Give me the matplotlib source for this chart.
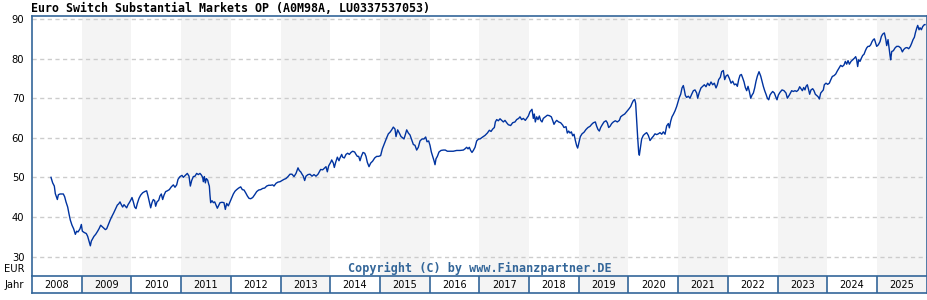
import matplotlib
matplotlib.use("Agg")
import matplotlib.pyplot as plt
import numpy as np

# fund price (EUR); time as decimal years
years = [
    2008.382, 2008.416, 2008.449, 2008.469, 2008.496, 2008.510, 2008.530, 2008.563, 2008.630, 2008.657,
    2008.684, 2008.718, 2008.744, 2008.771, 2008.805, 2008.838, 2008.872, 2008.899, 2008.926, 2008.966,
    2008.993, 2009.013, 2009.046, 2009.093, 2009.120, 2009.147, 2009.174, 2009.194, 2009.221, 2009.247,
    2009.281, 2009.321, 2009.348, 2009.382, 2009.408, 2009.442, 2009.476, 2009.502, 2009.543, 2009.576,
    2009.610, 2009.643, 2009.677, 2009.717, 2009.744, 2009.771, 2009.797, 2009.824, 2009.851, 2009.878,
    2009.905, 2009.932, 2009.958, 2009.985, 2010.012, 2010.039, 2010.066, 2010.093, 2010.119, 2010.153,
    2010.186, 2010.227, 2010.267, 2010.307, 2010.334, 2010.361, 2010.388, 2010.414, 2010.441, 2010.468,
    2010.488, 2010.515, 2010.549, 2010.575, 2010.602, 2010.629, 2010.656, 2010.689, 2010.723, 2010.763,
    2010.803, 2010.844, 2010.877, 2010.911, 2010.938, 2010.978, 2011.018, 2011.045, 2011.085,
    2011.125, 2011.159, 2011.186, 2011.213, 2011.246, 2011.280, 2011.313, 2011.347, 2011.380, 2011.407,
    2011.434, 2011.447, 2011.468, 2011.488, 2011.508, 2011.535, 2011.555, 2011.568, 2011.581, 2011.595,
    2011.622, 2011.649, 2011.676, 2011.702, 2011.729, 2011.756, 2011.783, 2011.823, 2011.863, 2011.890,
    2011.917, 2011.950, 2011.984, 2012.017, 2012.051, 2012.085, 2012.118, 2012.158, 2012.199, 2012.232,
    2012.266, 2012.299, 2012.333, 2012.366, 2012.400, 2012.440, 2012.480, 2012.521, 2012.561, 2012.601,
    2012.641, 2012.682, 2012.722, 2012.762, 2012.802, 2012.842, 2012.869, 2012.910, 2012.950, 2012.990,
    2013.030, 2013.071, 2013.111, 2013.151, 2013.191, 2013.231, 2013.272, 2013.312, 2013.352, 2013.379,
    2013.406, 2013.433, 2013.459, 2013.486, 2013.513, 2013.553, 2013.594, 2013.634, 2013.674, 2013.714,
    2013.755, 2013.781, 2013.808, 2013.848, 2013.889, 2013.915, 2013.942, 2013.969,
    2014.010, 2014.030, 2014.063, 2014.083, 2014.110, 2014.144, 2014.177, 2014.197, 2014.231, 2014.251,
    2014.284, 2014.318, 2014.351, 2014.385, 2014.418, 2014.452, 2014.492, 2014.519, 2014.546, 2014.573,
    2014.600, 2014.626, 2014.660, 2014.694, 2014.720, 2014.747, 2014.781, 2014.814, 2014.854, 2014.895,
    2014.935, 2014.975, 2015.015, 2015.049, 2015.083, 2015.109, 2015.136, 2015.170, 2015.203, 2015.237,
    2015.270, 2015.304, 2015.324, 2015.357, 2015.391, 2015.425, 2015.458, 2015.485, 2015.512, 2015.539,
    2015.572, 2015.606, 2015.639, 2015.673, 2015.706, 2015.740, 2015.773, 2015.807, 2015.847, 2015.887,
    2015.921, 2015.948, 2015.981, 2016.008, 2016.035, 2016.062, 2016.089, 2016.109, 2016.129, 2016.156,
    2016.189, 2016.229, 2016.276, 2016.316, 2016.357, 2016.410, 2016.477, 2016.545, 2016.612, 2016.679,
    2016.712, 2016.746, 2016.773, 2016.799, 2016.826, 2016.853, 2016.880, 2016.914, 2016.947, 2016.987,
    2017.014, 2017.068, 2017.115, 2017.162, 2017.202, 2017.236, 2017.269, 2017.303, 2017.323, 2017.350,
    2017.383, 2017.417, 2017.450, 2017.484, 2017.517, 2017.551, 2017.584, 2017.631, 2017.671, 2017.718,
    2017.752, 2017.792, 2017.819, 2017.852, 2017.886, 2017.926, 2017.953, 2017.987, 2018.020, 2018.060,
    2018.087, 2018.107, 2018.127, 2018.154, 2018.181, 2018.208, 2018.235, 2018.262, 2018.288, 2018.329,
    2018.369, 2018.409, 2018.449, 2018.476, 2018.503, 2018.530, 2018.557, 2018.597, 2018.637, 2018.678,
    2018.704, 2018.745, 2018.771, 2018.798, 2018.825, 2018.852, 2018.879, 2018.906, 2018.933, 2018.959,
    2018.979, 2019.006, 2019.033, 2019.067, 2019.107, 2019.147, 2019.187, 2019.228, 2019.261, 2019.295,
    2019.335, 2019.362, 2019.388, 2019.415, 2019.442, 2019.469, 2019.509, 2019.549, 2019.576, 2019.603,
    2019.630, 2019.664, 2019.697, 2019.737, 2019.777, 2019.818, 2019.845, 2019.885, 2019.925, 2019.965,
    2020.005, 2020.046, 2020.072, 2020.099, 2020.126, 2020.146, 2020.166, 2020.186, 2020.207, 2020.220,
    2020.240, 2020.267, 2020.300, 2020.334, 2020.367, 2020.401, 2020.435, 2020.468, 2020.502, 2020.535,
    2020.569, 2020.602, 2020.636, 2020.670, 2020.703, 2020.737, 2020.770, 2020.804, 2020.824, 2020.851,
    2020.877, 2020.904, 2020.938, 2020.971, 2020.998, 2021.025, 2021.052, 2021.079, 2021.105, 2021.125,
    2021.146, 2021.172, 2021.206, 2021.239, 2021.273, 2021.307, 2021.340, 2021.374, 2021.394, 2021.427,
    2021.461, 2021.494, 2021.528, 2021.561, 2021.595, 2021.629, 2021.662, 2021.696, 2021.729, 2021.763,
    2021.790, 2021.816, 2021.850, 2021.877, 2021.910, 2021.937, 2021.964, 2021.998, 2022.031, 2022.065,
    2022.098, 2022.132, 2022.165, 2022.192, 2022.219, 2022.246, 2022.273, 2022.300, 2022.327, 2022.353,
    2022.380, 2022.407, 2022.434, 2022.461, 2022.488, 2022.514, 2022.541, 2022.568, 2022.595, 2022.628,
    2022.662, 2022.689, 2022.715, 2022.742, 2022.769, 2022.796, 2022.823, 2022.849, 2022.876, 2022.903,
    2022.937, 2022.963, 2022.990, 2023.017, 2023.051, 2023.091, 2023.131, 2023.171, 2023.198, 2023.238,
    2023.285, 2023.318, 2023.352, 2023.385, 2023.419, 2023.446, 2023.473, 2023.500, 2023.527, 2023.553,
    2023.574, 2023.600, 2023.627, 2023.647, 2023.674, 2023.708, 2023.734, 2023.761, 2023.788, 2023.815,
    2023.842, 2023.869, 2023.895, 2023.922, 2023.942, 2023.976, 2024.009, 2024.043, 2024.070, 2024.103,
    2024.137, 2024.171, 2024.204, 2024.238, 2024.271, 2024.305, 2024.338, 2024.365, 2024.392, 2024.419,
    2024.446, 2024.479, 2024.513, 2024.546, 2024.573, 2024.593, 2024.613, 2024.633, 2024.660, 2024.687,
    2024.714, 2024.741, 2024.768, 2024.794, 2024.821, 2024.848, 2024.875, 2024.902, 2024.928, 2024.949,
    2024.969, 2024.996, 2025.029, 2025.063, 2025.090, 2025.117, 2025.150, 2025.177, 2025.197, 2025.224,
    2025.244, 2025.264, 2025.277, 2025.298, 2025.331, 2025.365, 2025.398, 2025.438, 2025.479, 2025.512,
    2025.539, 2025.573, 2025.606, 2025.640, 2025.673, 2025.700, 2025.727, 2025.754, 2025.774, 2025.801,
    2025.821, 2025.848, 2025.868, 2025.895, 2025.921, 2025.955, 2025.968,
]
prices = [
    50.0, 48.6, 47.8, 45.9, 44.9, 44.4, 45.6, 45.8, 45.8, 45.1,
    43.8, 42.5, 40.8, 39.2, 37.9, 37.0, 35.6, 36.4, 36.2, 37.0,
    38.1, 36.4, 36.1, 35.8, 35.1, 33.9, 32.7, 33.9, 34.5, 35.1,
    35.6, 36.4, 37.0, 37.9, 37.6, 37.2, 36.8, 37.0, 38.3, 39.3,
    40.2, 41.0, 41.9, 43.0, 43.3, 43.8, 43.1, 42.5, 43.1, 42.7,
    42.3, 43.1, 43.6, 44.2, 44.9, 43.8, 42.5, 42.1, 43.4, 44.7,
    45.5, 46.1, 46.4, 46.6, 45.3, 43.8, 42.3, 43.6, 44.4, 44.1,
    42.7, 43.8, 44.2, 45.3, 45.8, 44.4, 45.5, 46.4, 46.6, 46.9,
    47.6, 48.1, 47.5, 48.1, 49.5, 50.2, 50.5, 50.0, 50.5,
    51.0, 50.3, 47.8, 49.2, 50.2, 50.3, 51.0, 50.7, 51.0, 50.6,
    50.0, 48.9, 50.2, 48.6, 49.7, 49.3, 48.3, 47.8, 45.5, 43.6,
    44.1, 43.6, 43.8, 43.0, 42.2, 42.9, 43.6, 43.7, 43.6, 41.9,
    43.4, 42.8, 43.8, 44.7, 45.8, 46.5, 46.9, 47.3, 47.6, 46.9,
    46.8, 46.1, 45.3, 44.7, 44.6, 44.9, 45.6, 46.4, 46.8, 46.9,
    47.2, 47.3, 47.8, 48.0, 48.0, 48.1, 47.8, 48.5, 48.8, 48.9,
    49.2, 49.5, 49.7, 50.2, 50.8, 50.8, 50.2, 51.0, 52.4, 51.7,
    51.4, 50.8, 50.3, 49.2, 50.3, 50.7, 50.8, 50.3, 50.7, 50.3,
    50.8, 51.4, 52.0, 51.9, 52.4, 52.7, 51.4, 52.9,
    53.8, 54.4, 53.6, 52.5, 53.8, 55.1, 54.2, 54.9, 55.8, 55.1,
    54.9, 55.8, 56.1, 55.8, 56.3, 56.6, 56.4, 55.8, 55.3, 55.3,
    54.2, 55.3, 56.3, 56.1, 55.3, 53.8, 52.7, 53.6, 54.1, 54.9,
    55.3, 55.3, 55.5, 57.2, 58.3, 59.2, 60.0, 61.0, 61.4, 62.0,
    62.7, 62.2, 60.3, 62.0, 61.2, 60.3, 60.0, 59.7, 60.8, 62.0,
    61.2, 60.7, 59.5, 58.3, 58.1, 56.9, 57.6, 59.2, 59.7, 59.7,
    60.2, 59.0, 59.2, 58.1, 56.4, 55.3, 54.2, 53.2, 54.7, 55.3,
    56.4, 56.8, 56.9, 56.9, 56.6, 56.6, 56.6, 56.8, 56.8, 56.9,
    57.2, 57.6, 57.2, 57.6, 56.8, 56.3, 56.8, 57.6, 59.2, 59.7,
    59.7, 60.2, 60.6, 61.2, 61.9, 61.6, 62.2, 62.6, 64.0, 64.6,
    64.3, 64.8, 64.4, 64.0, 64.4, 63.8, 63.3, 63.1, 63.8, 64.0,
    64.6, 64.9, 65.3, 64.6, 64.9, 64.4, 64.9, 65.5, 66.6, 67.2,
    64.9, 66.0, 64.0, 65.3, 64.6, 65.5, 64.4, 64.0, 64.9, 65.3,
    65.7, 65.6, 65.3, 64.4, 63.4, 64.0, 64.4, 64.0, 63.8, 63.2,
    62.6, 62.8, 61.2, 61.7, 61.2, 61.5, 60.5, 60.9, 59.3, 58.0,
    57.4, 58.9, 60.3, 61.0, 61.4, 62.1, 62.6, 62.9, 63.4, 63.8,
    64.0, 62.9, 62.1, 61.7, 62.6, 63.2, 64.0, 64.3, 63.8, 62.6,
    62.9, 63.6, 64.0, 64.3, 64.0, 64.4, 65.3, 65.7, 66.0, 66.6,
    67.2, 67.9, 68.7, 69.4, 69.7, 68.7, 64.4, 60.2, 56.3, 55.6,
    57.4, 59.7, 60.6, 61.0, 61.3, 60.6, 59.3, 59.9, 60.4, 61.0,
    60.8, 61.0, 61.3, 60.9, 61.5, 60.9, 63.0, 63.6, 62.5, 64.2,
    65.3, 65.9, 66.8, 67.9, 69.1, 70.2, 71.0, 72.6, 73.2, 72.1,
    70.7, 70.2, 70.5, 70.0, 71.0, 71.9, 72.1, 71.3, 70.0, 71.5,
    72.6, 73.0, 73.4, 72.9, 73.8, 73.2, 74.1, 73.4, 73.8, 72.6,
    73.4, 74.7, 75.3, 76.7, 77.0, 74.7, 75.6, 75.9, 75.0, 73.8,
    74.3, 73.4, 73.6, 73.0, 74.7, 75.8, 76.0, 75.1, 74.1, 72.7,
    71.9, 73.0, 71.7, 70.0, 70.8, 71.3, 72.6, 74.3, 75.6, 76.7,
    75.6, 74.3, 73.0, 71.9, 71.0, 70.0, 69.6, 70.8, 71.3, 71.7,
    71.3, 70.4, 69.6, 70.8, 71.5, 72.1, 71.9, 71.3, 70.0, 70.8,
    71.9, 71.7, 71.9, 71.7, 72.1, 72.9, 72.4, 71.9, 72.7, 72.1,
    73.0, 73.4, 72.1, 71.0, 72.1, 72.4, 71.9, 71.0, 70.7, 70.4,
    69.8, 71.3, 71.7, 72.1, 73.4, 73.8, 73.5, 73.8, 74.6, 75.5,
    75.7, 76.1, 76.9, 77.6, 78.3, 78.0, 78.4, 79.3, 78.6, 79.5,
    78.6, 79.3, 79.7, 80.1, 80.5, 79.7, 78.0, 79.7, 79.3, 80.1,
    80.8, 81.1, 82.0, 82.7, 83.1, 83.1, 83.5, 84.3, 84.8, 85.0,
    84.2, 83.1, 83.5, 84.3, 85.6, 86.2, 86.5, 85.0, 83.3, 84.8,
    82.7, 80.8, 79.7, 81.8, 82.0, 82.7, 83.1, 83.1, 82.7, 81.7,
    82.3, 82.7, 82.8, 82.5, 83.1, 83.9, 84.8, 85.4, 86.5, 87.7,
    88.4, 87.3, 87.8, 87.3, 88.1, 88.6, 88.6,
]

year_labels = list(range(2008, 2026))
y_ticks = [30, 40, 50, 60, 70, 80, 90]
title = "Euro Switch Substantial Markets OP (A0M98A, LU0337537053)"
copyright_text = "Copyright (C) by www.Finanzpartner.DE"

line_col = "#0033a0"
frame_col = "#336699"
band_col = "#f4f4f4"
grid_col = "#cccccc"

W, H = 928, 300
fig = plt.figure(figsize=(W / 100, H / 100), dpi=100)

ax = fig.add_axes([32 / W, 1 - 275.5 / H, 895.5 / W, 260 / H])
strip = fig.add_axes([32 / W, 1 - 292.5 / H, 895.5 / W, 17 / H])

x0, x1 = 2008.0, 2008.0 + 895.5 / 49.7

# alternating year bands
for yr in year_labels:
    if yr % 2 == 1:
        ax.axvspan(yr, yr + 1, color=band_col, lw=0, zorder=0)
        strip.axvspan(yr, yr + 1, color=band_col, lw=0, zorder=0)

for v in y_ticks:
    ax.axhline(v, color=grid_col, lw=1.0, ls=(0, (3, 2.5)), zorder=1)

ax.plot(years, prices, color=line_col, lw=1.0, zorder=3)

ax.set_xlim(x0, x1)
ax.set_ylim(25.2, 90.9)
ax.set_xticks([])
ax.set_yticks(y_ticks)
ax.set_yticklabels([str(v) for v in y_ticks], fontsize=7.2, family="DejaVu Sans")
ax.tick_params(axis="y", length=0, pad=5.5)
for side in ["left", "top", "right"]:
    ax.spines[side].set_color(frame_col)
    ax.spines[side].set_linewidth(1.2)
ax.spines["bottom"].set_visible(False)

ax.text(0.5, 0.028, copyright_text, transform=ax.transAxes, ha="center", va="center",
        fontsize=8.5, family="DejaVu Sans Mono", fontweight="bold", color=frame_col, zorder=4)

# year strip
strip.set_xlim(x0, x1)
strip.set_ylim(0, 1)
strip.set_xticks([])
strip.set_yticks([])
for yr in year_labels[1:]:
    strip.axvline(yr, color=frame_col, lw=1.2)
for yr in year_labels:
    strip.text(yr + 0.5, 0.47, str(yr), ha="center", va="center", fontsize=7.0, family="DejaVu Sans")
for side in strip.spines.values():
    side.set_color(frame_col)
    side.set_linewidth(1.2)

fig.text(31 / W, 1 - 12.5 / H, title, ha="left", va="baseline", fontsize=8.4,
         family="DejaVu Sans Mono", fontweight="bold")
fig.text(24.5 / W, 1 - 268.5 / H, "EUR", ha="right", va="center", fontsize=7.2, family="DejaVu Sans")
fig.text(24.5 / W, 1 - 284.5 / H, "Jahr", ha="right", va="center", fontsize=7.2, family="DejaVu Sans")

fig.savefig("out.png", dpi=100)
